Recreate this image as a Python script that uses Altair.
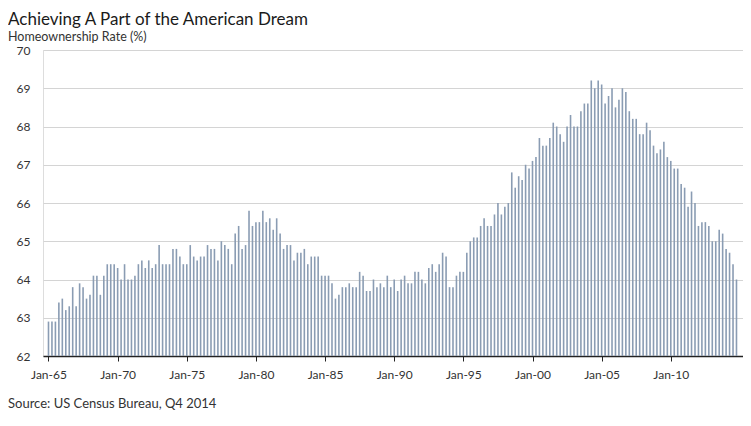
import altair as alt
import pandas as pd

START_YEAR = 1965
# Quarterly homeownership rate (%), 1965 Q1 .. 2014 Q4
rates = [
    62.9, 62.9, 62.9, 63.4,  # 1965
    63.5, 63.2, 63.3, 63.8,  # 1966
    63.3, 63.9, 63.8, 63.5,  # 1967
    63.6, 64.1, 64.1, 63.6,  # 1968
    64.1, 64.4, 64.4, 64.4,  # 1969
    64.3, 64.0, 64.4, 64.0,  # 1970
    64.0, 64.1, 64.4, 64.5,  # 1971
    64.3, 64.5, 64.3, 64.4,  # 1972
    64.9, 64.4, 64.4, 64.4,  # 1973
    64.8, 64.8, 64.6, 64.4,  # 1974
    64.4, 64.9, 64.6, 64.5,  # 1975
    64.6, 64.6, 64.9, 64.8,  # 1976
    64.8, 64.5, 65.0, 64.9,  # 1977
    64.8, 64.4, 65.2, 65.4,  # 1978
    64.8, 64.9, 65.8, 65.4,  # 1979
    65.5, 65.5, 65.8, 65.5,  # 1980
    65.6, 65.3, 65.6, 65.2,  # 1981
    64.8, 64.9, 64.9, 64.5,  # 1982
    64.7, 64.7, 64.8, 64.4,  # 1983
    64.6, 64.6, 64.6, 64.1,  # 1984
    64.1, 64.1, 63.9, 63.5,  # 1985
    63.6, 63.8, 63.8, 63.9,  # 1986
    63.8, 63.8, 64.2, 64.1,  # 1987
    63.7, 63.7, 64.0, 63.8,  # 1988
    63.9, 63.8, 64.1, 63.8,  # 1989
    64.0, 63.7, 64.0, 64.1,  # 1990
    63.9, 63.9, 64.2, 64.2,  # 1991
    64.0, 63.9, 64.3, 64.4,  # 1992
    64.2, 64.4, 64.7, 64.6,  # 1993
    63.8, 63.8, 64.1, 64.2,  # 1994
    64.2, 64.7, 65.0, 65.1,  # 1995
    65.1, 65.4, 65.6, 65.4,  # 1996
    65.4, 65.7, 66.0, 65.7,  # 1997
    65.9, 66.0, 66.8, 66.4,  # 1998
    66.7, 66.6, 67.0, 66.9,  # 1999
    67.1, 67.2, 67.7, 67.5,  # 2000
    67.5, 67.7, 68.1, 68.0,  # 2001
    67.8, 67.6, 68.0, 68.3,  # 2002
    68.0, 68.0, 68.4, 68.6,  # 2003
    68.6, 69.2, 69.0, 69.2,  # 2004
    69.1, 68.6, 68.8, 69.0,  # 2005
    68.5, 68.7, 69.0, 68.9,  # 2006
    68.4, 68.2, 68.2, 67.8,  # 2007
    67.8, 68.1, 67.9, 67.5,  # 2008
    67.3, 67.4, 67.6, 67.2,  # 2009
    67.1, 66.9, 66.9, 66.5,  # 2010
    66.4, 65.9, 66.3, 66.0,  # 2011
    65.4, 65.5, 65.5, 65.4,  # 2012
    65.0, 65.0, 65.3, 65.2,  # 2013
    64.8, 64.7, 64.4, 64.0,  # 2014
]
tick_years = [1965, 1970, 1975, 1980, 1985, 1990, 1995, 2000, 2005, 2010]
y_ticks = [62, 63, 64, 65, 66, 67, 68, 69, 70]

TITLE = "Achieving A Part of the American Dream"
SUBTITLE = "Homeownership Rate (%)"
SOURCE = "Source: US Census Bureau, Q4 2014"
FONT = "Lato"

df = pd.DataFrame({
    "t": [START_YEAR + i / 4 for i in range(len(rates))],
    "rate": rates,
})

bars = alt.Chart(df).mark_bar(width=1.6, color="#8a9cb3").encode(
    x=alt.X("t:Q",
            scale=alt.Scale(domain=[1964.964, 2014.86], nice=False, zero=False),
            axis=alt.Axis(values=tick_years, title=None, grid=False,
                          labelExpr="'Jan-' + substring(toString(datum.value), 2)",
                          domainColor="#222222", domainWidth=1.5,
                          tickColor="#222222", tickSize=5, tickWidth=1,
                          labelPadding=8, labelFontSize=12, labelColor="#333333",
                          labelFont=FONT)),
    y=alt.Y("rate:Q",
            scale=alt.Scale(domain=[62, 70], nice=False, zero=False),
            axis=alt.Axis(values=y_ticks, title=None, grid=True, gridColor="#d4d4d4",
                          gridWidth=1, domain=False, ticks=False, labelPadding=13,
                          labelFontSize=12, labelColor="#333333", labelFont=FONT)),
    y2=alt.datum(62),
)

one = pd.DataFrame({"a": [0]})
title = alt.Chart(one).mark_text(text=TITLE, align="left", baseline="alphabetic",
                                 fontSize=17, font=FONT, color="#1a1a1a").encode(
    x=alt.value(-35), y=alt.value(-25))
subtitle = alt.Chart(one).mark_text(text=SUBTITLE, align="left", baseline="alphabetic",
                                    fontSize=12.5, font=FONT, color="#333333").encode(
    x=alt.value(-35), y=alt.value(-9))
source = alt.Chart(one).mark_text(text=SOURCE, align="left", baseline="alphabetic",
                                  fontSize=13, font=FONT, color="#333333").encode(
    x=alt.value(-35), y=alt.value(358))

chart = alt.layer(bars, title, subtitle, source).properties(
    width=700, height=306,
    padding={"left": 35, "top": 42, "right": 0, "bottom": 56},
    autosize=alt.AutoSizeParams(type="none"),
).configure_view(stroke=None).configure(background="white")

chart.save("out.html", embed_options={"renderer": "svg", "actions": False})
